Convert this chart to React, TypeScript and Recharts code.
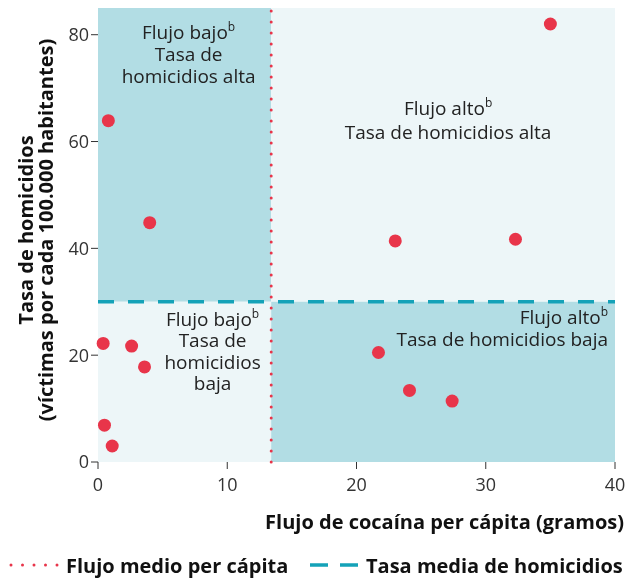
import { ScatterChart, Scatter, XAxis, YAxis, ReferenceArea, ReferenceLine } from 'recharts';

const flujo = [35.0, 0.8, 4.0, 23.0, 32.3, 0.4, 2.6, 3.6, 21.7, 24.1, 27.4, 0.5, 1.1];
const homicidios = [82.0, 63.9, 44.8, 41.4, 41.7, 22.2, 21.7, 17.8, 20.5, 13.4, 11.4, 6.9, 3.0];

const flujoMedio = 13.4;
const tasaMedia = 30;
const xTicks = [0, 10, 20, 30, 40];
const yTicks = [0, 20, 40, 60, 80];

const FONT = '"Open Sans", sans-serif';
const RED = '#e8354a';
const TEAL = '#14a2b8';
const DARK = '#b2dde4';
const LIGHT = '#edf6f8';

const data = flujo.map((x, i) => ({ x, y: homicidios[i] }));

type VB = { x: number; y: number; width: number; height: number };

// texto de cada cuadrante en un solo <text>; la primera línea lleva la "b" en superíndice
function quadLabel(lines: string[], align: 'middle' | 'end', dx: number, dy: number, gap = 22) {
  return (props: { viewBox?: VB }) => {
    const vb = props.viewBox as VB;
    const x = align === 'end' ? vb.x + vb.width + dx : vb.x + vb.width / 2 + dx;
    return (
      <text x={x} y={vb.y + dy} textAnchor={align} fontFamily={FONT} fontSize={19} fill="#222">
        {lines.map((l, i) => (
          <tspan key={i} x={x} y={vb.y + dy + i * gap}>
            {l}
            {i === 0 && <tspan fontSize={12} dy={-8}>b</tspan>}
          </tspan>
        ))}
      </text>
    );
  };
}

function XTitle(props: { viewBox?: VB }) {
  const vb = props.viewBox as VB;
  const right = vb.x + vb.width + 10;
  const ly = vb.y + 103;
  return (
    <g fontFamily={FONT} fontWeight="bold" fontSize={20} fill="#111">
      <text x={right - 1} y={vb.y + 59} textAnchor="end" dominantBaseline="central">
        Flujo de cocaína per cápita (gramos)
      </text>
      <line x1={11} y1={ly} x2={58} y2={ly} stroke={RED} strokeWidth={3} strokeDasharray="0 11.5" strokeLinecap="round" />
      <text x={66} y={ly} dominantBaseline="central">Flujo medio per cápita</text>
      <line x1={310} y1={ly} x2={358} y2={ly} stroke={TEAL} strokeWidth={3.5} strokeDasharray="18 12" />
      <text x={366} y={ly} dominantBaseline="central">Tasa media de homicidios</text>
    </g>
  );
}

function YTitle() {
  const cy = 230;
  return (
    <g fontFamily={FONT} fontWeight="bold" fontSize={20} fill="#111" textAnchor="middle">
      <text x={25} y={cy} transform={`rotate(-90 25 ${cy})`} dominantBaseline="central">
        Tasa de homicidios
      </text>
      <text x={45} y={cy} transform={`rotate(-90 45 ${cy})`} dominantBaseline="central">
        (víctimas por cada 100.000 habitantes)
      </text>
    </g>
  );
}

export default function App() {
  return (
    <div style={{ position: 'fixed', left: 0, top: 0, width: 625, height: 579 }}>
      <ScatterChart width={625} height={579} margin={{ top: 8, right: 10, left: 0, bottom: 0 }}>
        <ReferenceArea x1={0} x2={flujoMedio} y1={tasaMedia} y2={85} fill={DARK} fillOpacity={1} stroke="none"
          label={{ content: quadLabel(['Flujo bajo', 'Tasa de', 'homicidios alta'], 'middle', 4, 31) }} />
        <ReferenceArea x1={flujoMedio} x2={40} y1={tasaMedia} y2={85} fill={LIGHT} fillOpacity={1} stroke="none"
          label={{ content: quadLabel(['Flujo alto', 'Tasa de homicidios alta'], 'middle', 5, 107, 23.5) }} />
        <ReferenceArea x1={0} x2={flujoMedio} y1={0} y2={tasaMedia} fill={LIGHT} fillOpacity={1} stroke="none"
          label={{ content: quadLabel(['Flujo bajo', 'Tasa de', 'homicidios', 'baja'], 'middle', 28, 24, 21.5) }} />
        <ReferenceArea x1={flujoMedio} x2={40} y1={0} y2={tasaMedia} fill={DARK} fillOpacity={1} stroke="none"
          label={{ content: quadLabel(['Flujo alto', 'Tasa de homicidios baja'], 'end', -7, 22.5) }} />
        <XAxis type="number" dataKey="x" domain={[0, 40]} ticks={xTicks} height={117} axisLine={false}
          tickSize={7} tickMargin={9} tickLine={{ stroke: '#333' }} tick={{ fontSize: 18, fill: '#333', fontFamily: FONT }}
          label={{ content: XTitle }} />
        <YAxis type="number" dataKey="y" domain={[0, 85]} ticks={yTicks} width={98} axisLine={false}
          tickSize={7} tickLine={{ stroke: '#333' }} tick={{ fontSize: 18, fill: '#333', fontFamily: FONT }}
          label={{ content: YTitle }} />
        <ReferenceLine x={flujoMedio} stroke={RED} strokeWidth={3} strokeDasharray="0 11" strokeLinecap="round" />
        <ReferenceLine y={tasaMedia} stroke={TEAL} strokeWidth={3.5} strokeDasharray="16 14" />
        <Scatter data={data} fill={RED} isAnimationActive={false}
          shape={(p: { cx?: number; cy?: number }) => <circle cx={p.cx} cy={p.cy} r={6.5} fill={RED} />} />
      </ScatterChart>
    </div>
  );
}
